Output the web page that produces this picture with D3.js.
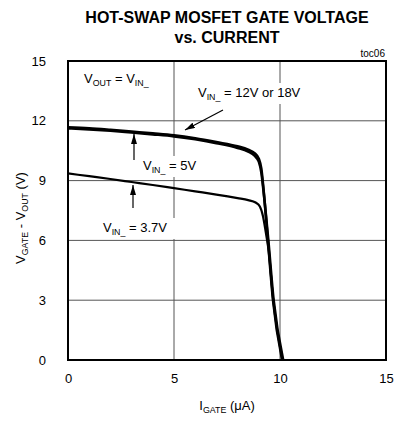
<!DOCTYPE html>
<html>
<head>
<meta charset="utf-8">
<script src="https://cdn.jsdelivr.net/npm/d3@7"></script>
<style>
  body { margin: 0; background: #fff; }
  text { font-family: "Liberation Sans Narrow", "Arial Narrow", "Liberation Sans", Arial, sans-serif; fill: #000; }
</style>
</head>
<body>
<script>
// Axis ticks
const xTicks = [0, 5, 10, 15];
const yTicks = [0, 3, 6, 9, 12, 15];

// Curves: [I_GATE (uA), V_GATE - V_OUT (V)]
const vin12 = [[0, 11.68], [1, 11.63], [2, 11.55], [3, 11.46], [4, 11.37], [5, 11.27], [6, 11.12],
  [7, 10.93], [8, 10.72], [8.5, 10.55], [8.8, 10.38], [9.0, 10.1], [9.12, 9.6], [9.22, 8.6],
  [9.43, 6.0], [9.67, 3.0], [10.1, 0]];
const vin5 = [[0, 11.62], [1, 11.57], [2, 11.5], [3, 11.41], [4, 11.32], [5, 11.22], [6, 11.07],
  [7, 10.88], [8, 10.64], [8.5, 10.45], [8.8, 10.25], [9.0, 9.95], [9.12, 9.4], [9.22, 8.5],
  [9.45, 6.0], [9.7, 3.0], [10.15, 0]];
const vin37 = [[0, 9.36], [1, 9.22], [2, 9.08], [3, 8.93], [4, 8.78], [5, 8.62], [6, 8.46],
  [7, 8.3], [8, 8.12], [8.5, 8.02], [8.85, 7.9], [9.05, 7.7], [9.2, 7.2], [9.33, 6.4],
  [9.45, 5.6], [9.68, 3.0], [10.12, 0]];

const w = 404;
const h = 424;
const padL = 68, padR = 386, padT = 61, padB = 360;

const xScale = d3.scaleLinear().domain([0, 15]).range([padL, padR]);
const yScale = d3.scaleLinear().domain([0, 15]).range([padB, padT]);

const svg = d3.select('body').append('svg').attr('width', w).attr('height', h);

// Title
svg.append('text').attr('x', 227).attr('y', 23).attr('text-anchor', 'middle')
  .attr('font-size', 16).attr('font-weight', 'bold').text('HOT-SWAP MOSFET GATE VOLTAGE');
svg.append('text').attr('x', 227).attr('y', 43).attr('text-anchor', 'middle')
  .attr('font-size', 16).attr('font-weight', 'bold').text('vs. CURRENT');
svg.append('text').attr('x', 385).attr('y', 57).attr('text-anchor', 'end')
  .attr('font-size', 10).text('toc06');

// Grid
const grid = svg.append('g');
grid.selectAll('.vg').data(xTicks.slice(1, -1)).enter().append('line')
  .attr('x1', d => xScale(d)).attr('x2', d => xScale(d))
  .attr('y1', padT).attr('y2', padB)
  .attr('stroke', '#555').attr('stroke-width', 1);
grid.selectAll('.hg').data(yTicks.slice(1, -1)).enter().append('line')
  .attr('x1', padL).attr('x2', padR)
  .attr('y1', d => yScale(d)).attr('y2', d => yScale(d))
  .attr('stroke', '#555').attr('stroke-width', 1);

// Axes
const xAxis = d3.axisBottom(xScale).tickValues(xTicks).tickSize(0).tickPadding(14);
const yAxis = d3.axisLeft(yScale).tickValues(yTicks).tickSize(0).tickPadding(12);
svg.append('g').attr('transform', 'translate(0,' + padB + ')').call(xAxis)
  .call(g => g.select('.domain').remove());
svg.append('g').attr('transform', 'translate(' + (padL - 10) + ',0)').call(yAxis)
  .call(g => g.select('.domain').remove());
svg.selectAll('.tick text').attr('font-size', 13);
svg.selectAll('.tick').attr('font-family', null);

// Axis titles with subscripts
function subText(sel, parts, size) {
  parts.forEach(p => {
    const t = sel.append('tspan').text(p[0]);
    if (p[1] === 'sub') t.attr('font-size', size * 0.68).attr('dy', 3);
    else if (p[1] === 'up') t.attr('dy', -3);
  });
}
const xt = svg.append('text').attr('x', 227).attr('y', 410).attr('text-anchor', 'middle').attr('font-size', 13);
subText(xt, [['I'], ['GATE', 'sub'], [' (\u03bcA)', 'up']], 13);

const yt = svg.append('text').attr('transform', 'translate(25,218) rotate(-90)')
  .attr('text-anchor', 'middle').attr('font-size', 13);
subText(yt, [['V'], ['GATE', 'sub'], [' - V', 'up'], ['OUT', 'sub'], [' (V)', 'up']], 13);

// Curves
const line = d3.line().x(d => xScale(d[0])).y(d => yScale(d[1])).curve(d3.curveMonotoneX);
const curves = svg.append('g').attr('fill', 'none').attr('stroke', '#000')
  .attr('stroke-linejoin', 'round');
curves.append('path').attr('d', line(vin37)).attr('stroke-width', 2.2);
curves.append('path').attr('d', line(vin5)).attr('stroke-width', 2.6);
curves.append('path').attr('d', line(vin12)).attr('stroke-width', 2.6);

// Labels with white knockouts
function label(x, y, parts, pad) {
  const g = svg.append('g');
  const r = g.append('rect').attr('fill', '#fff');
  const t = g.append('text').attr('x', x).attr('y', y).attr('font-size', 13);
  subText(t, parts, 13);
  const b = t.node().getBBox();
  r.attr('x', b.x - pad).attr('y', b.y - 2).attr('width', b.width + pad * 2).attr('height', b.height + 4);
}
label(84, 83, [['V'], ['OUT', 'sub'], [' = V', 'up'], ['IN_', 'sub']], 3);
label(198, 97, [['V'], ['IN_', 'sub'], [' = 12V or 18V', 'up']], 3);
label(143, 170, [['V'], ['IN_', 'sub'], [' = 5V', 'up']], 3);
label(103, 232, [['V'], ['IN_', 'sub'], [' = 3.7V', 'up']], 8);

// Arrows
svg.append('defs').append('marker').attr('id', 'ah')
  .attr('viewBox', '0 0 10 6').attr('refX', 10).attr('refY', 3)
  .attr('markerWidth', 10).attr('markerHeight', 6).attr('markerUnits', 'userSpaceOnUse')
  .attr('orient', 'auto')
  .append('path').attr('d', 'M0,0L10,3L0,6Z').attr('fill', '#000');
const arrows = [[223, 110, 185, 130], [134, 160, 134, 134], [133, 208, 133, 185]];
svg.selectAll('.arrow').data(arrows).enter().append('line')
  .attr('x1', d => d[0]).attr('y1', d => d[1]).attr('x2', d => d[2]).attr('y2', d => d[3])
  .attr('stroke', '#000').attr('stroke-width', 1.2).attr('marker-end', 'url(#ah)');

// Frame
svg.append('rect').attr('x', padL).attr('y', padT).attr('width', padR - padL).attr('height', padB - padT)
  .attr('fill', 'none').attr('stroke', '#000').attr('stroke-width', 2);
</script>
</body>
</html>
